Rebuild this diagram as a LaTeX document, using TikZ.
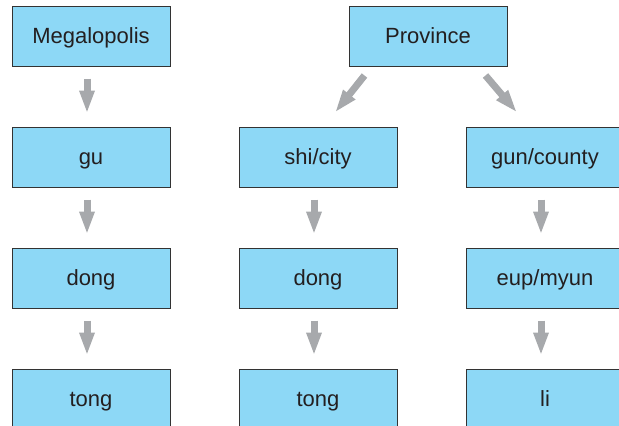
\documentclass[tikz,border=0pt]{standalone}
\usepackage{fontspec}
\setmainfont{Liberation Sans}
\usetikzlibrary{arrows.meta,calc}
\definecolor{boxfill}{HTML}{8DD8F6}
\definecolor{boxline}{HTML}{333333}
\definecolor{txt}{HTML}{231F20}
\definecolor{arr}{HTML}{A7A9AC}
\tikzset{
  unit/.style={draw=boxline, line width=1pt, fill=boxfill, minimum width=158pt, minimum height=60pt, inner sep=0pt, text height=15.5pt, text depth=0pt, text=txt, font=\fontsize{22}{26}\selectfont},
  fatarrow/.style={draw=arr, line width=7pt, -{Triangle[width=14pt,length=23pt]}},
}
\begin{document}
\begin{tikzpicture}[x=1pt,y=-1pt]
\useasboundingbox (0,0) rectangle (619,426);
\clip (0,0) rectangle (619,426);
\node[unit] (mega) at (91,36) {Megalopolis};
\node[unit] (gu) at (91,157) {gu};
\node[unit] (dong1) at (91,278) {dong};
\node[unit] (tong1) at (91,399) {tong};
\node[unit] (prov) at (428,36) {Province};
\node[unit] (shi) at (318,157) {shi/city};
\node[unit] (dong2) at (318,278) {dong};
\node[unit] (tong2) at (318,399) {tong};
\node[unit] (gun) at (545,157) {gun/county};
\node[unit] (eup) at (545,278) {eup/myun};
\node[unit] (li) at (545,399) {li};
\foreach \a/\b in {mega/gu, gu/dong1, dong1/tong1, shi/dong2, dong2/tong2, gun/eup, eup/li}{
  \draw[fatarrow] ($(\a.south)+(-4,12)$) -- ($(\b.north)+(-4,-13)$);
}
\draw[fatarrow] ($(prov.south west)+(16,9)$) -- ($(shi.north)+(17,-14)$);
\draw[fatarrow] ($(prov.south east)+(-22,9)$) -- ($(gun.north)+(-28,-14)$);
\end{tikzpicture}
\end{document}
